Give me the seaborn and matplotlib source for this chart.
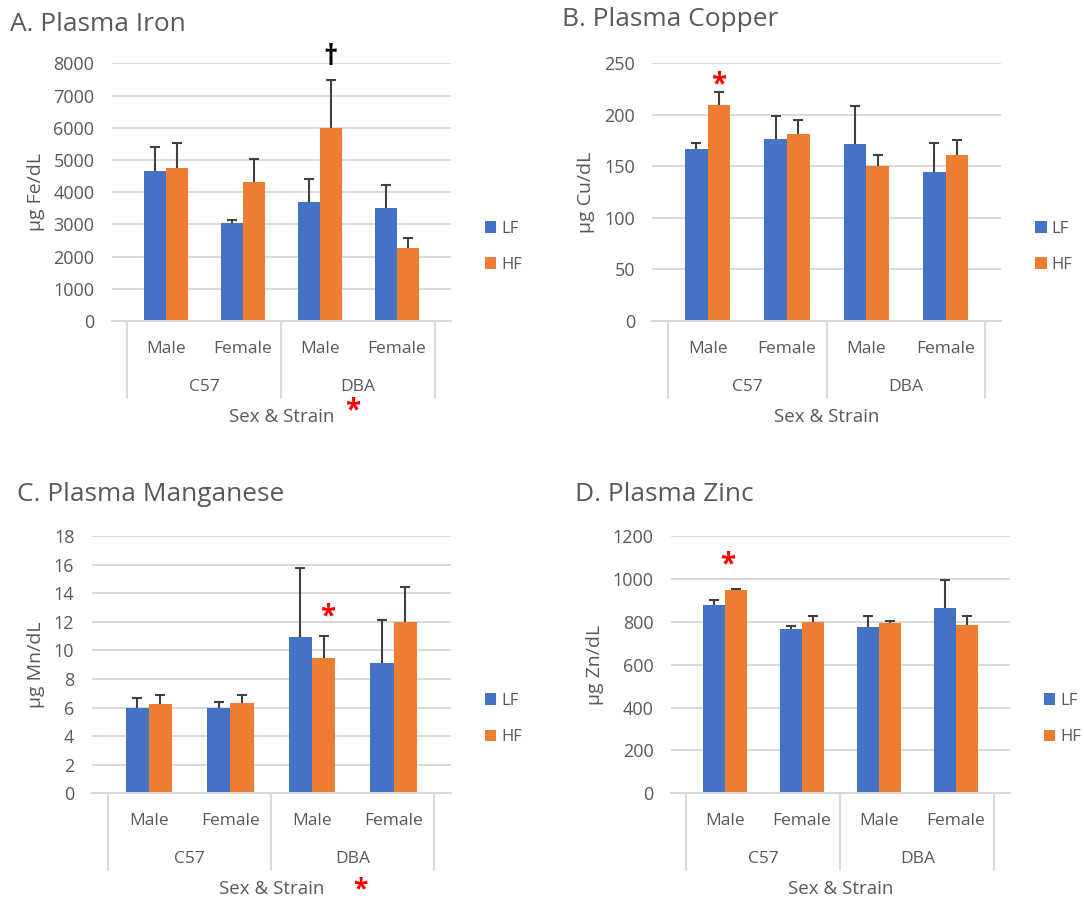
import matplotlib
matplotlib.use("Agg")
import matplotlib.pyplot as plt
import pandas as pd
import seaborn as sns

# --- data (mean and upper error length) ---
strains = ["C57", "C57", "DBA", "DBA"]
sexes = ["Male", "Female", "Male", "Female"]
diets = ["LF", "HF"]
diet_colors = ["#4472C4", "#ED7D31"]

iron_lf = [4650, 3030, 3690, 3520]
iron_lf_err = [760, 110, 710, 690]
iron_hf = [4750, 4330, 6000, 2280]
iron_hf_err = [790, 690, 1470, 300]

copper_lf = [167, 177, 172, 145]
copper_lf_err = [6, 22, 37, 28]
copper_hf = [210, 181, 150, 161]
copper_hf_err = [12.5, 14, 11, 15]

mn_lf = [6.0, 6.0, 10.9, 9.15]
mn_lf_err = [0.65, 0.37, 4.88, 2.95]
mn_hf = [6.28, 6.35, 9.45, 12.0]
mn_hf_err = [0.6, 0.53, 1.55, 2.4]

zn_lf = [879, 767, 778, 865]
zn_lf_err = [22, 16, 50, 129]
zn_hf = [948, 801, 797, 787]
zn_hf_err = [8, 27, 9, 41]

TEXT = "#595959"
GRID = "#d9d9d9"
ERR = "#404040"
FIG_W, FIG_H = 1084, 900
PT = 0.72  # points per pixel at dpi 100

groups = [f"{s} {x}" for s, x in zip(strains, sexes)]


def make_frame(lf, lf_err, hf, hf_err):
    rows = []
    for diet, vals, errs in (("LF", lf, lf_err), ("HF", hf, hf_err)):
        for g, v, e in zip(groups, vals, errs):
            rows.append({"group": g, "diet": diet, "value": v, "err": e})
    return pd.DataFrame(rows)


def px_rect(left, top, right, bottom):
    return [left / FIG_W, 1 - bottom / FIG_H, (right - left) / FIG_W, (bottom - top) / FIG_H]


def star(ax, xy, coords, dx_px, dy_px, size=20):
    # red asterisk, glyph centre placed at (dx_px, dy_px) from xy
    base = dy_px - 0.43 * size / PT
    ax.annotate(r"$\mathbf{*}$", xy=xy, xycoords=coords, xytext=(dx_px * PT, base * PT),
                textcoords="offset points", ha="center", va="baseline",
                color="red", fontsize=size, annotation_clip=False)


def panel(fig, rect, df, yticks, title, title_px, ylabel, ylabel_px):
    ax = fig.add_axes(rect)
    w_px = rect[2] * FIG_W
    h_px = rect[3] * FIG_H
    sns.barplot(data=df, x="group", y="value", hue="diet", order=groups,
                hue_order=diets, palette=diet_colors, width=0.57, saturation=1,
                errorbar=None, linewidth=0, ax=ax)

    # upward error bars only
    bar_pos = {}
    for cont, diet in zip(ax.containers, diets):
        sub = df[df["diet"] == diet].set_index("group").loc[groups]
        xs = [b.get_x() + b.get_width() / 2 for b in cont]
        tops = [b.get_height() for b in cont]
        ups = [t + e for t, e in zip(tops, sub["err"])]
        ax.vlines(xs, tops, ups, color=ERR, lw=1.5, zorder=3)
        ax.plot(xs, ups, ls="none", marker="_", ms=7.5, mew=1.5, color=ERR, zorder=3)
        bar_pos[diet] = list(zip(xs, ups))

    ax.set_ylim(yticks[0], yticks[-1])
    ax.set_yticks(yticks)
    ax.set_axisbelow(True)
    ax.yaxis.grid(True, color=GRID, lw=1.4)
    ax.xaxis.grid(False)
    for s in ("left", "right", "top"):
        ax.spines[s].set_visible(False)
    ax.spines["bottom"].set_color(GRID)
    ax.spines["bottom"].set_linewidth(1.5)
    ax.spines["bottom"].set_zorder(5)
    ax.tick_params(axis="y", length=0, pad=12.5, labelsize=13, labelcolor=TEXT)
    ax.tick_params(axis="x", length=0)
    ax.set_xticks(range(len(groups)))
    ax.set_xticklabels([])
    ax.set_xlabel("")

    # multi level category axis
    xt = ax.get_xaxis_transform()
    for i, sx in enumerate(sexes):
        ax.annotate(sx, xy=(i, 0), xycoords=xt, xytext=(0, -31.7 * PT),
                    textcoords="offset points", ha="center", va="baseline",
                    fontsize=12.5, color=TEXT)
    for st in dict.fromkeys(strains):
        idx = [i for i, s in enumerate(strains) if s == st]
        mid = (idx[0] + idx[-1]) / 2
        ax.annotate(st, xy=(mid, 0), xycoords=xt, xytext=(0, -69.7 * PT),
                    textcoords="offset points", ha="center", va="baseline",
                    fontsize=12.5, color=TEXT)
    seps = [-0.5] + [i + 0.5 for i in range(len(strains) - 1)
                     if strains[i] != strains[i + 1]] + [len(strains) - 0.5]
    for sx in seps:
        ax.plot([sx, sx], [0, -76.7 / h_px], transform=xt, color=GRID, lw=1.5, clip_on=False)
    ax.annotate("Sex & Strain", xy=(0.5, 0), xycoords="axes fraction",
                xytext=(0, -100.7 * PT), textcoords="offset points",
                ha="center", va="baseline", fontsize=13.5, color=TEXT)

    ax.set_ylabel(ylabel, fontsize=14, color=TEXT)
    ax.yaxis.set_label_coords((ylabel_px + 8 - rect[0] * FIG_W) / w_px, 0.5)

    fig.text(title_px[0] / FIG_W, 1 - title_px[1] / FIG_H, title,
             fontsize=18.9, color=TEXT, ha="left", va="baseline")

    sns.move_legend(ax, "center left", bbox_to_anchor=(1 + 34 / w_px, 0.288),
                    frameon=False, title=None, fontsize=12, borderpad=0,
                    borderaxespad=0, handlelength=0.7, handleheight=0.7,
                    handletextpad=0.3, labelspacing=1.22)
    for t in ax.get_legend().get_texts():
        t.set_color(TEXT)
    return ax, bar_pos


sns.set_style("white")
plt.rcParams["font.family"] = ["Open Sans", "DejaVu Sans"]
plt.rcParams["mathtext.fontset"] = "custom"
plt.rcParams["mathtext.rm"] = "Open Sans"
plt.rcParams["mathtext.bf"] = "Open Sans:bold"

fig = plt.figure(figsize=(FIG_W / 100, FIG_H / 100), dpi=100)

# A. Iron
ax, bp = panel(fig, px_rect(111.7, 63.3, 450.7, 321),
               make_frame(iron_lf, iron_lf_err, iron_hf, iron_hf_err),
               list(range(0, 8001, 1000)), "A. Plasma Iron", (10, 30.7),
               "µg Fe/dL", 36.7)
ax.annotate("\u2020", xy=bp["HF"][2], xycoords="data", xytext=(0, 23 * PT),
            textcoords="offset points", ha="center", va="center", color="black",
            fontsize=20, fontweight="bold", annotation_clip=False)
star(ax, (0.5, 0), "axes fraction", 71.5, -85)

# B. Copper
ax, bp = panel(fig, px_rect(652.3, 63.3, 1001, 321),
               make_frame(copper_lf, copper_lf_err, copper_hf, copper_hf_err),
               list(range(0, 251, 50)), "B. Plasma Copper", (561.7, 26),
               "µg Cu/dL", 586.7)
star(ax, bp["HF"][0], "data", 0, 12.6)

# C. Manganese
ax, bp = panel(fig, px_rect(91.7, 536, 450.7, 793.3),
               make_frame(mn_lf, mn_lf_err, mn_hf, mn_hf_err),
               list(range(0, 19, 2)), "C. Plasma Manganese", (16.7, 500.7),
               "µg Mn/dL", 36.7)
star(ax, bp["HF"][2], "data", 4.3, 24.4)
star(ax, (0.5, 0), "axes fraction", 89.8, -91.5, size=19)

# D. Zinc
ax, bp = panel(fig, px_rect(671, 536.3, 1009.7, 793.3),
               make_frame(zn_lf, zn_lf_err, zn_hf, zn_hf_err),
               list(range(0, 1201, 200)), "D. Plasma Zinc", (575, 500.7),
               "µg Zn/dL", 595.7)
star(ax, bp["HF"][0], "data", -8.1, 28.6)

fig.savefig("out.png", dpi=100, facecolor="white")
